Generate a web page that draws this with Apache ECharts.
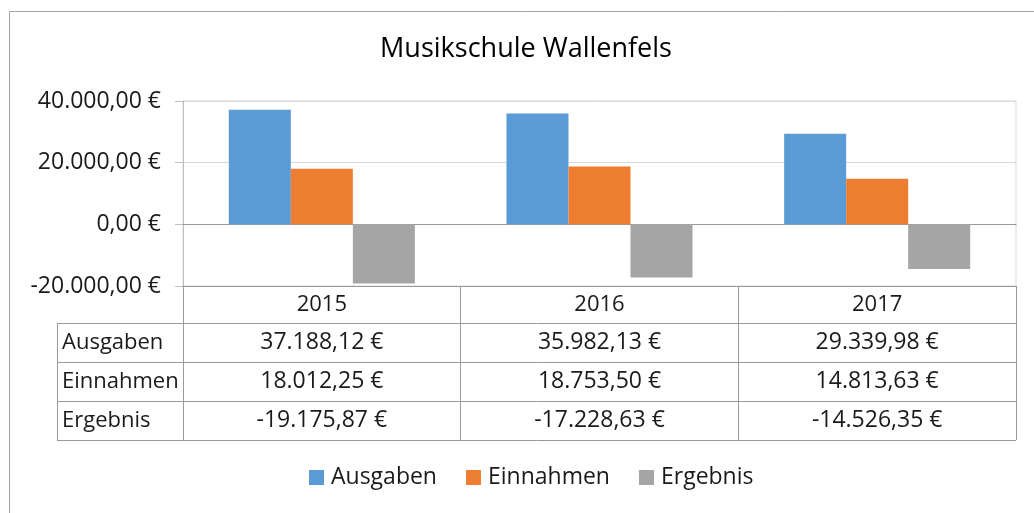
<!DOCTYPE html>
<html>
<head>
<meta charset="utf-8">
<script src="https://cdn.jsdelivr.net/npm/echarts@6/dist/echarts.min.js"></script>
<style>
  html, body { margin: 0; padding: 0; background: #fff; }
  #chart { width: 1034px; height: 513px; }
</style>
</head>
<body>
<div id="chart"></div>
<script>
// Daten
const years = ['2015', '2016', '2017']
const seriesNames = ['Ausgaben', 'Einnahmen', 'Ergebnis']
const ausgaben = [37188.12, 35982.13, 29339.98]
const einnahmen = [18012.25, 18753.50, 14813.63]
const ergebnis = [-19175.87, -17228.63, -14526.35]
const yMin = -20000
const yMax = 40000
const yStep = 20000

const colors = ['#5B9BD5', '#ED7D31', '#A5A5A5']
const font = '"Open Sans", "Noto Sans", sans-serif'
const textColor = '#1a1a1a'

// 40000 -> "40.000,00 €"
function euro (v) {
  const neg = v < 0
  let [i, d] = Math.abs(v).toFixed(2).split('.')
  i = i.replace(/\B(?=(\d{3})+(?!\d))/g, '.')
  return (neg ? '-' : '') + i + ',' + d + ' €'
}

// Layout
const W = 1034
const H = 513
const plotLeft = 183
const plotRight = 1016
const plotTop = 101
const plotBottom = 286
const headerH = 37
const rowH = 39
const labelLeft = 57
const tableBottom = plotBottom + headerH + rowH * 3

const rows = [ausgaben, einnahmen, ergebnis]
const colW = (plotRight - plotLeft) / years.length

const graphic = []
// Rahmen um das Diagramm
graphic.push({
  type: 'rect',
  shape: { x: 9.5, y: 11.5, width: 1100, height: 600 },
  style: { fill: 'none', stroke: '#a3a3a3', lineWidth: 1 },
  silent: true
})
// Tabellenlinien
for (let r = 0; r <= rows.length; r++) {
  const y = plotBottom + headerH + r * rowH + 0.5
  graphic.push({
    type: 'line',
    shape: { x1: labelLeft, y1: y, x2: plotRight, y2: y },
    style: { stroke: '#9a9a9a', lineWidth: 1 },
    silent: true
  })
}
graphic.push({
  type: 'line',
  shape: { x1: labelLeft + 0.5, y1: plotBottom + headerH, x2: labelLeft + 0.5, y2: tableBottom },
  style: { stroke: '#9a9a9a', lineWidth: 1 },
  silent: true
})
// Tabelleninhalt
rows.forEach((vals, r) => {
  const cy = plotBottom + headerH + r * rowH + rowH / 2
  graphic.push({
    type: 'text',
    x: labelLeft + 5,
    y: cy,
    style: {
      text: seriesNames[r], fill: textColor, font: '22px ' + font,
      align: 'left', verticalAlign: 'middle'
    },
    silent: true
  })
  vals.forEach((v, c) => {
    graphic.push({
      type: 'text',
      x: plotLeft + colW * (c + 0.5),
      y: cy,
      style: {
        text: euro(v), fill: textColor, font: '23px ' + font,
        align: 'center', verticalAlign: 'middle'
      },
      silent: true
    })
  })
})

const option = {
  animation: false,
  backgroundColor: '#fff',
  title: {
    text: 'Musikschule Wallenfels',
    left: 521,
    textAlign: 'center',
    top: 31,
    textStyle: {
      color: '#000',
      fontFamily: font,
      fontSize: 27,
      fontWeight: 'normal'
    }
  },
  legend: {
    data: seriesNames,
    bottom: 19,
    left: 304,
    icon: 'rect',
    itemWidth: 15,
    itemHeight: 15,
    itemGap: 29,
    textStyle: {
      color: textColor,
      fontFamily: font,
      fontSize: 23,
      padding: [0, 0, 0, 2]
    }
  },
  grid: {
    left: plotLeft,
    right: W - plotRight,
    top: plotTop,
    bottom: H - plotBottom,
    show: true,
    borderColor: '#d9d9d9',
    borderWidth: 1
  },
  xAxis: [
    {
      type: 'category',
      data: years,
      position: 'bottom',
      z: 1,
      axisLine: { onZero: false, lineStyle: { color: '#9a9a9a', width: 1 } },
      axisTick: { show: true, inside: false, length: tableBottom - plotBottom, lineStyle: { color: '#9a9a9a' } },
      axisLabel: {
        margin: headerH / 2,
        verticalAlign: 'middle',
        color: textColor,
        fontFamily: font,
        fontSize: 22
      },
      splitLine: { show: false }
    },
    {
      type: 'category',
      data: years,
      position: 'bottom',
      z: 1,
      axisLine: { onZero: true, lineStyle: { color: '#9a9a9a', width: 1 } },
      axisTick: { show: false },
      axisLabel: { show: false },
      splitLine: { show: false }
    }
  ],
  yAxis: {
    type: 'value',
    min: yMin,
    max: yMax,
    interval: yStep,
    axisLine: { show: true, lineStyle: { color: '#bfbfbf' } },
    axisTick: { show: true, length: 8, lineStyle: { color: '#bfbfbf' } },
    axisLabel: {
      margin: 22,
      color: textColor,
      fontFamily: font,
      fontSize: 23,
      formatter: euro
    },
    splitLine: { show: true, lineStyle: { color: '#d9d9d9' } }
  },
  series: [ausgaben, einnahmen, ergebnis].map((d, i) => ({
    name: seriesNames[i],
    type: 'bar',
    data: d,
    itemStyle: { color: colors[i] },
    barGap: '0%',
    barCategoryGap: '33%'
  })),
  graphic: graphic
}

const myChart = echarts.init(document.getElementById('chart'), null, { renderer: 'canvas' })
myChart.setOption(option)
</script>
</body>
</html>
